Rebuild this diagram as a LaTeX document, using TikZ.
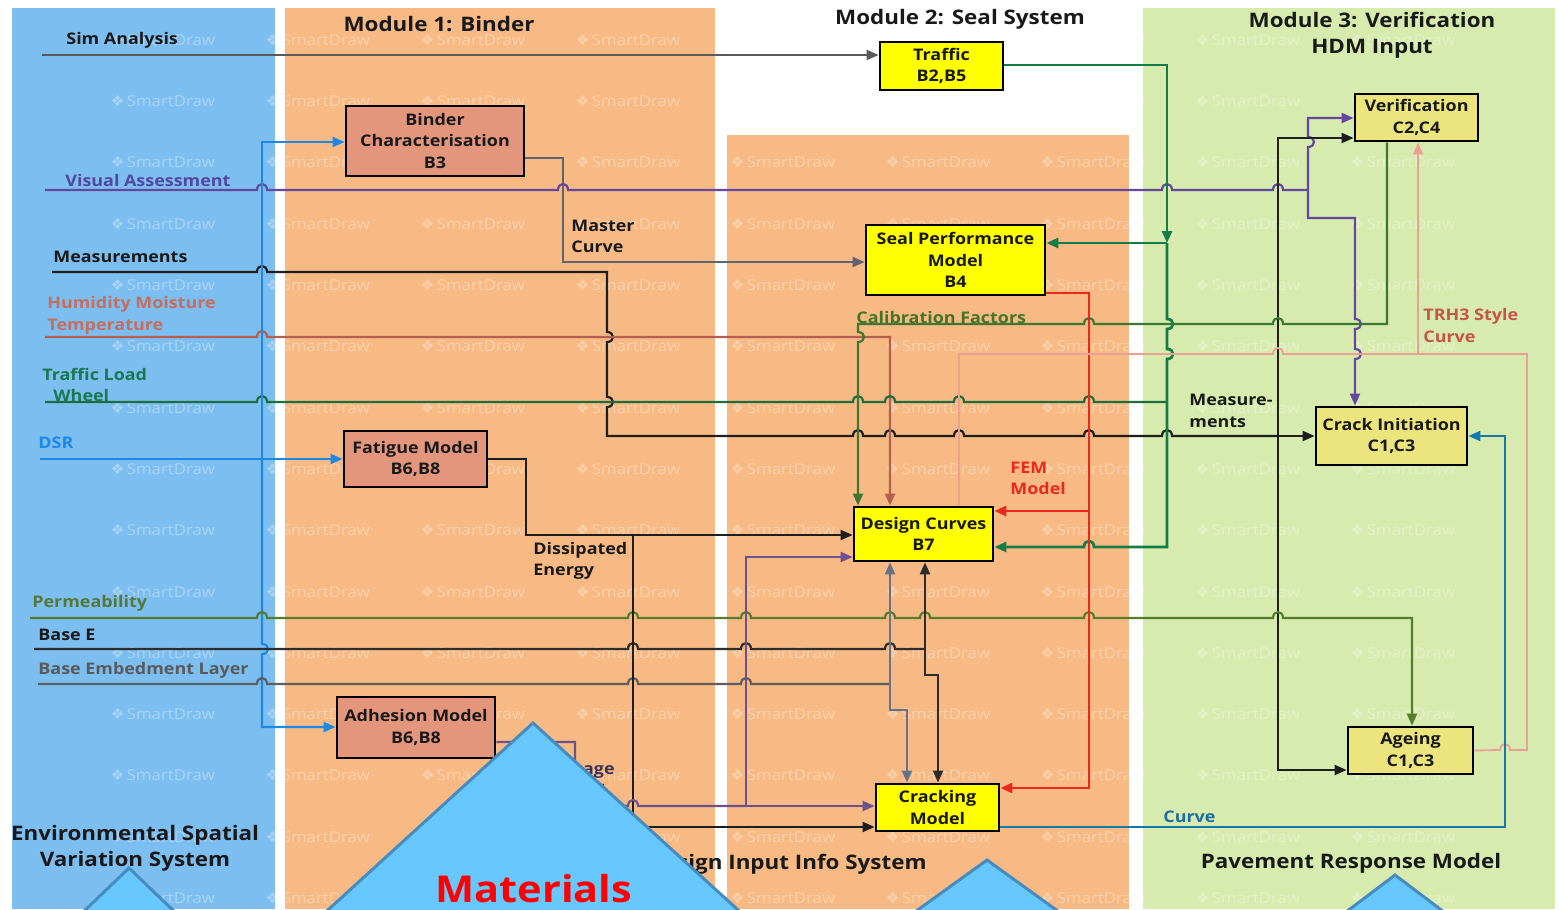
\documentclass[tikz,border=0pt]{standalone}
\usepackage{fontspec}
\setmainfont{Open Sans}[FakeStretch=1.12]
\newfontfamily\symf{DejaVu Sans}
\usetikzlibrary{arrows.meta}
% panels
\definecolor{pBlue}{RGB}{125,190,240}
\definecolor{pOrange}{RGB}{248,186,132}
\definecolor{pGreen}{RGB}{216,235,174}
\definecolor{triFill}{RGB}{102,200,255}
\definecolor{triLine}{RGB}{70,140,190}
% boxes
\definecolor{bYel}{RGB}{255,255,0}
\definecolor{bPale}{RGB}{236,228,125}
\definecolor{bSal}{RGB}{228,150,125}
% connectors
\definecolor{cSim}{RGB}{90,90,90}
\definecolor{cVis}{RGB}{100,72,160}
\definecolor{cBlk}{RGB}{30,30,30}
\definecolor{cHum}{RGB}{180,95,80}
\definecolor{cTL}{RGB}{30,110,60}
\definecolor{cDSR}{RGB}{30,136,229}
\definecolor{cPerm}{RGB}{85,125,45}
\definecolor{cBE}{RGB}{45,45,45}
\definecolor{cBEL}{RGB}{95,95,95}
\definecolor{cGB}{RGB}{100,115,135}
\definecolor{cMC}{RGB}{95,100,110}
\definecolor{cCal}{RGB}{60,120,50}
\definecolor{cRed}{RGB}{235,40,30}
\definecolor{cPink}{RGB}{235,160,150}
\definecolor{cCurve}{RGB}{20,120,170}
\definecolor{cAdh}{RGB}{110,80,140}
\definecolor{cTG}{RGB}{20,125,70}
% label texts
\definecolor{tDark}{RGB}{25,25,25}
\definecolor{tVis}{RGB}{85,70,160}
\definecolor{tHum}{RGB}{195,110,95}
\definecolor{tTL}{RGB}{25,120,80}
\definecolor{tPerm}{RGB}{85,120,55}
\definecolor{tBEL}{RGB}{90,90,90}
\definecolor{tCal}{RGB}{70,115,40}
\definecolor{tTRH}{RGB}{195,85,75}
\definecolor{tCurve}{RGB}{25,110,165}
\definecolor{tDam}{RGB}{60,50,90}
\begin{document}
\begin{tikzpicture}[x=0.5pt,y=-0.5pt,
  conn/.style={line width=1.1pt},
  arr/.style={-{Triangle[length=6pt,width=5pt]}},
  % line jumps: horizontal (left-to-right / right-to-left), vertical (down / up)
  hj/.style 2 args={insert path={-- ({#1-5},#2) .. controls ({#1-5},{#2-8}) and ({#1+5},{#2-8}) .. ({#1+5},#2)}},
  hjl/.style 2 args={insert path={-- ({#1+5},#2) .. controls ({#1+5},{#2-8}) and ({#1-5},{#2-8}) .. ({#1-5},#2)}},
  vj/.style 2 args={insert path={-- (#1,{#2-5}) .. controls ({#1+8},{#2-5}) and ({#1+8},{#2+5}) .. (#1,{#2+5})}},
  vju/.style 2 args={insert path={-- (#1,{#2+5}) .. controls ({#1+8},{#2+5}) and ({#1+8},{#2-5}) .. (#1,{#2-5})}},
  box/.style={draw=black, line width=1.4pt, inner sep=0pt, align=center,
    font=\bfseries\fontsize{8}{10.7}\selectfont, text=tDark},
  ybox/.style={box, fill=bYel},
  gbox/.style={box, fill=bPale},
  sbox/.style={box, fill=bSal},
  lab/.style={font=\bfseries\fontsize{8}{10.7}\selectfont, inner sep=0pt, align=left, anchor=west},
  head/.style={font=\bfseries\fontsize{10}{12.8}\selectfont, inner sep=0pt, align=center, text=tDark},
  wm/.style={font=\fontsize{7.5}{8}\selectfont, text=white, opacity=0.33, inner sep=0pt},
  tri/.style={fill=triFill, draw=triLine, line width=1.5pt, line join=miter}
]
\useasboundingbox (0,0) rectangle (1561,909);
\fill[white] (0,0) rectangle (1561,909);

% background panels
\fill[pBlue] (12,8) rectangle (275,909);
\fill[pOrange] (285,8) rectangle (715,909);
\fill[pOrange] (727,135) rectangle (1129,909);
\fill[pGreen] (1143,8) rectangle (1555,909);

% watermark grid
\foreach \i in {1,...,9}{
  \foreach \j in {0,...,14}{
    \node[wm] (wm-\i-\j) at ({8+155*\i},{40+61.3*\j}) {{\symf ❖}\,SmartDraw};
  }
}

% headers
\node[head] (h1) at (439,24) {Module 1: Binder};
\node[head] (h2) at (960,19) {Module 2: Seal System};
\node[head] (h3) at (1372,35.5) {Module 3: Verification\\HDM Input};
\node[head] (h4) at (135,848) {Environmental Spatial\\Variation System};
\node[head, anchor=east] (h5) at (927,864) {Design Input Info System};
\node[head] (h6) at (1351,863) {Pavement Response Model};

% free ends of the input lines
\coordinate (inSim) at (42,55);
\coordinate (inVis) at (45,190);
\coordinate (inMeas) at (52,272);
\coordinate (inHum) at (45,337);
\coordinate (inTL) at (45,402);
\coordinate (inDSR) at (40,459);
\coordinate (inPerm) at (30,618);
\coordinate (inBE) at (34,649);
\coordinate (inBEL) at (38,684);

% boxes
\node[ybox, minimum width=61.5pt, minimum height=24pt] (trf) at (941.5,66) {Traffic\\B2,B5};
\node[ybox, minimum width=89.5pt, minimum height=35pt] (seal) at (955.5,260) {Seal Performance\\Model\\B4};
\node[ybox, minimum width=69.5pt, minimum height=27pt] (dc) at (923.5,534) {Design Curves\\B7};
\node[ybox, minimum width=61.5pt, minimum height=23.5pt] (crk) at (937.5,807.5) {Cracking\\Model};
\node[gbox, minimum width=61.5pt, minimum height=23.5pt] (ver) at (1416.5,117.5) {Verification\\C2,C4};
\node[gbox, minimum width=75.5pt, minimum height=29pt] (ci) at (1391.5,436) {Crack Initiation\\C1,C3};
\node[gbox, minimum width=62.5pt, minimum height=23.5pt] (age) at (1410.5,750.5) {Ageing\\C1,C3};
\node[sbox, minimum width=89pt, minimum height=35pt] (bc) at (435,141) {Binder\\Characterisation\\B3};
\node[sbox, minimum width=71.5pt, minimum height=28pt] (fat) at (415.5,459) {Fatigue Model\\B6,B8};
\node[sbox, minimum width=79pt, minimum height=30.5pt] (adh) at (416,727.5) {Adhesion Model\\B6,B8};

% junction points
\coordinate (dsrJ) at (262,459);
\coordinate (visJ) at (1308,190);
\coordinate (measJ) at (1278,436);
\coordinate (beJ) at (925,649);
\coordinate (belJ) at (890,684);
\coordinate (deJ) at (633,535);
\coordinate (adhJ) at (746,806);
\coordinate (trgJ) at (1167,243);
\coordinate (femJ) at (1089,511);
\coordinate (pkJ) at (1418,354);

% Sim Analysis
\draw[conn, cSim, arr] (inSim) -- (trf.west |- 0,55);

% Master Curve
\draw[conn, cMC, arr] (bc.east |- 0,158) -- (563,158) -- (563,262) -- (seal.west |- 0,262);

% Visual Assessment
\draw[conn, cVis] (inVis) [hj={262}{190}] [hj={563}{190}] [hj={1167}{190}] [hj={1278}{190}] -- (visJ);
\draw[conn, cVis, arr] (visJ) [vju={1308}{142}] -- (1308,118) -- (ver.west |- 0,118);
\draw[conn, cVis, arr] (visJ) -- (1308,218) -- (1355,218) [vj={1355}{324}] [vj={1355}{354}] -- (ci.north -| 1355,0);

% Measurements
\draw[conn, cBlk] (inMeas) [hj={262}{272}] -- (607,272) [vj={607}{337}] [vj={607}{402}] -- (607,436)
  [hj={858}{436}] [hj={890}{436}] [hj={959}{436}] [hj={1089}{436}] [hj={1167}{436}] -- (measJ);
\draw[conn, cBlk, arr] (measJ) -- (ci.west |- 0,436);
\draw[conn, cBlk, arr] (measJ) -- (1278,138) -- (ver.west |- 0,138);
\draw[conn, cBlk, arr] (measJ) -- (1278,770) -- (age.west |- 0,770);

% Humidity Moisture Temperature
\draw[conn, cHum, arr] (inHum) [hj={262}{337}] -- (890,337) -- (dc.north -| 890,0);

% Traffic Load Wheel
\draw[conn, cTL] (inTL) [hj={262}{402}] [hj={858}{402}] [hj={890}{402}] [hj={959}{402}] [hj={1089}{402}] -- (1167,402);

% DSR
\draw[conn, cDSR, arr] (inDSR) -- (fat.west |- 0,459);
\draw[conn, cDSR, arr] (dsrJ) -- (262,142) -- (bc.west |- 0,142);
\draw[conn, cDSR, arr] (dsrJ) [vj={262}{649}] -- (262,727) -- (adh.west |- 0,727);

% Permeability
\draw[conn, cPerm, arr] (inPerm) [hj={262}{618}] [hj={633}{618}] [hj={746}{618}] [hj={890}{618}]
  [hj={925}{618}] [hj={1089}{618}] [hj={1278}{618}] -- (1412,618) -- (age.north -| 1412,0);

% Base E
\draw[conn, cBE] (inBE) [hj={633}{649}] [hj={746}{649}] [hj={890}{649}] -- (beJ);
\draw[conn, cBE, arr] (beJ) -- (dc.south -| 925,0);
\draw[conn, cBE, arr] (beJ) -- (925,675) -- (938,675) -- (crk.north -| 938,0);

% Base Embedment Layer
\draw[conn, cBEL] (inBEL) [hj={262}{684}] [hj={633}{684}] [hj={746}{684}] -- (belJ);
\draw[conn, cGB, arr] (belJ) -- (dc.south -| 890,0);
\draw[conn, cGB, arr] (belJ) -- (890,710) -- (907,710) -- (crk.north -| 907,0);

% Dissipated Energy
\draw[conn, cBlk, arr] (fat.east) -- (526,459) -- (526,535) -- (dc.west |- 0,535);
\draw[conn, cBlk, arr] (deJ) -- (633,827) -- (crk.west |- 0,827);

% Damage Model (adhesion)
\draw[conn, cAdh] (adh.east |- 0,742) -- (575,742) -- (575,806) [hj={633}{806}] -- (adhJ);
\draw[conn, cAdh, arr] (adhJ) -- (crk.west |- 0,806);
\draw[conn, cAdh, arr] (adhJ) -- (746,557) -- (dc.west |- 0,557);

% Traffic to seal performance and design curves
\draw[conn, cTG, line width=1.4pt, arr] (trf.east |- 0,65) -- (1167,65) -- (trgJ);
\draw[conn, cTG, line width=1.4pt, arr] (trgJ) -- (seal.east |- 0,243);
\draw[conn, cTG, line width=1.4pt, arr] (trgJ) [vj={1167}{324}] [vj={1167}{354}] -- (1167,547)
  [hjl={1089}{547}] -- (dc.east |- 0,547);

% Calibration Factors
\draw[conn, cCal, arr] (ver.south -| 1387,0) -- (1387,324) [hjl={1278}{324}] [hjl={1089}{324}]
  -- (858,324) [vj={858}{337}] -- (dc.north -| 858,0);

% FEM Model
\draw[conn, cRed, line width=1.4pt] (seal.east |- 0,293) -- (1089,293) -- (femJ);
\draw[conn, cRed, line width=1.4pt, arr] (femJ) -- (dc.east |- 0,511);
\draw[conn, cRed, line width=1.4pt, arr] (femJ) -- (1089,788) -- (crk.east |- 0,788);

% TRH3 Style Curve
\draw[conn, cPink, line width=0.9pt] (age.east) [hj={1505}{750}] -- (1527,750) -- (1527,354) -- (pkJ);
\draw[conn, cPink, line width=0.9pt, arr] (pkJ) -- (ver.south -| 1418,0);
\draw[conn, cPink, line width=0.9pt] (pkJ) [hjl={1278}{354}] -- (959,354) -- (dc.north -| 959,0);

% Curve
\draw[conn, cCurve, arr] (crk.east |- 0,827) -- (1505,827) -- (1505,436) -- (ci.east |- 0,436);

% line labels
\node[lab, text=tDark] (lSim) at (66,40) {Sim Analysis};
\node[lab, text=tVis] (lVis) at (65,181) {Visual Assessment};
\node[lab, text=tDark] (lMeas) at (53,257) {Measurements};
\node[lab, text=tHum] (lHum) at (47,315.5) {Humidity Moisture\\Temperature};
\node[lab, text=tTL] (lTL) at (42,385) {Traffic Load\\\hspace*{5.5pt}Wheel};
\node[lab, text=cDSR] (lDSR) at (38,443) {DSR};
\node[lab, text=tPerm] (lPerm) at (32,603) {Permeability};
\node[lab, text=tDark] (lBE) at (38,635) {Base E};
\node[lab, text=tBEL] (lBEL) at (38,670) {Base Embedment Layer};
\node[lab, text=tDark] (lMC) at (571,236.5) {Master\\Curve};
\node[lab, text=tCal] (lCal) at (856,317) {Calibration Factors};
\node[lab, text=tDark] (lDE) at (533,561) {Dissipated\\Energy};
\node[lab, text=cRed] (lFEM) at (1010,478.5) {FEM\\Model};
\node[lab, text=tDark] (lMs) at (1189,411) {Measure-\\ments};
\node[lab, text=tTRH] (lTRH) at (1423,325.5) {TRH3 Style\\Curve};
\node[lab, text=tCurve] (lCurve) at (1163,817) {Curve};
\node[lab, text=tDam, align=center, anchor=center] (lDam) at (578,780) {Damage\\Model};

% foreground triangles
\path[tri] (533,723) -- (295,940) -- (771,940) -- cycle;
\path[tri] (129,868) -- (54,940) -- (204,940) -- cycle;
\path[tri] (987,860) -- (876,940) -- (1098,940) -- cycle;
\path[tri] (1395,875) -- (1309,940) -- (1481,940) -- cycle;
\node[font=\bfseries\fontsize{18.5}{20}\selectfont, text=red, inner sep=0pt, anchor=base] (mat) at (534,902) {Materials};
\end{tikzpicture}
\end{document}
